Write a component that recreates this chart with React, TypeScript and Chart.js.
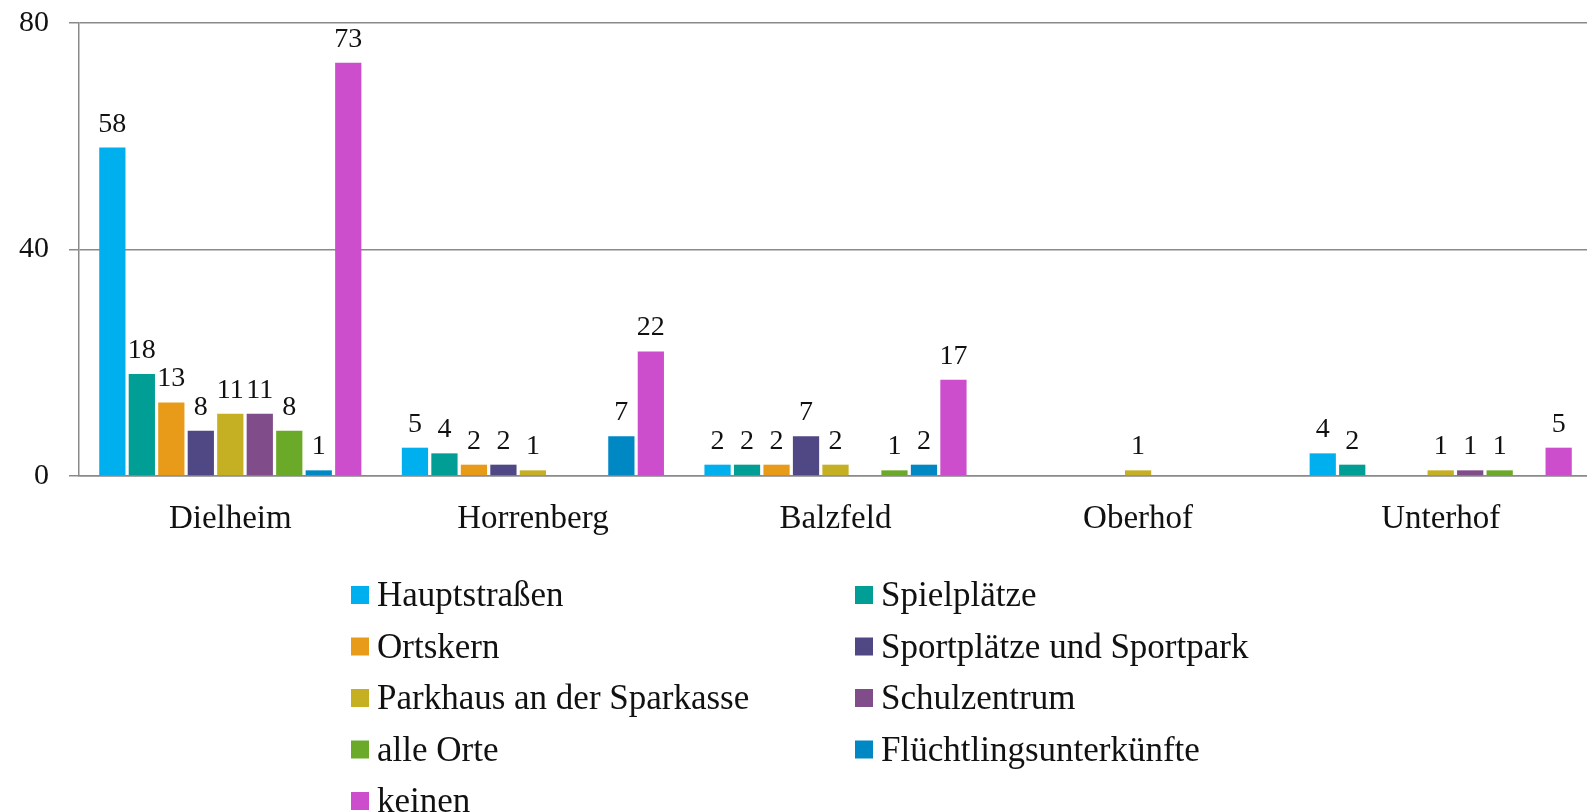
import React, { useEffect, useRef } from "react";
import { Chart, registerables } from "chart.js";

Chart.register(...registerables);

const categories = ["Dielheim", "Horrenberg", "Balzfeld", "Oberhof", "Unterhof"];

const seriesNames = [
  "Hauptstraßen",
  "Spielplätze",
  "Ortskern",
  "Sportplätze und Sportpark",
  "Parkhaus an der Sparkasse",
  "Schulzentrum",
  "alle Orte",
  "Flüchtlingsunterkünfte",
  "keinen",
];

const seriesColors = [
  "#00B0EE",
  "#009E94",
  "#E89B19",
  "#504785",
  "#C5AF23",
  "#804D8A",
  "#6BAA28",
  "#0088C5",
  "#CC4ECC",
];

const hauptstrassen = [58, 5, 2, null, 4];
const spielplaetze = [18, 4, 2, null, 2];
const ortskern = [13, 2, 2, null, null];
const sportplaetze = [8, 2, 7, null, null];
const parkhaus = [11, 1, 2, 1, 1];
const schulzentrum = [11, null, null, null, 1];
const alleOrte = [8, null, 1, null, 1];
const fluechtlinge = [1, 7, 2, null, null];
const keinen = [73, 22, 17, null, 5];

const seriesValues = [
  hauptstrassen,
  spielplaetze,
  ortskern,
  sportplaetze,
  parkhaus,
  schulzentrum,
  alleOrte,
  fluechtlinge,
  keinen,
];

const yMin = 0;
const yMax = 80;
const yStep = 40;

const FONT = "'Liberation Serif', 'Times New Roman', serif";
const GRID = "#8a8a8a";

const valueLabels = {
  id: "valueLabels",
  afterDatasetsDraw(chart: any) {
    const ctx = chart.ctx;
    ctx.save();
    ctx.font = `28px ${FONT}`;
    ctx.fillStyle = "#111";
    ctx.textAlign = "center";
    ctx.textBaseline = "alphabetic";
    chart.data.datasets.forEach((ds: any, di: number) => {
      const meta = chart.getDatasetMeta(di);
      meta.data.forEach((bar: any, i: number) => {
        const v = ds.data[i];
        if (v === null || v === undefined) return;
        ctx.fillText(String(v), bar.x, bar.y - 16);
      });
    });
    ctx.restore();
  },
};

const gridLegend = {
  id: "gridLegend",
  afterDraw(chart: any) {
    const ctx = chart.ctx;
    ctx.save();
    ctx.font = `35px ${FONT}`;
    ctx.textAlign = "left";
    ctx.textBaseline = "alphabetic";
    const colX = [351, 855];
    const rowH = 51.5;
    chart.data.datasets.forEach((ds: any, i: number) => {
      const col = i % 2;
      const row = Math.floor(i / 2);
      const x = colX[col];
      const top = 586 + row * rowH;
      ctx.fillStyle = ds.backgroundColor;
      ctx.fillRect(x, top, 18, 18);
      ctx.fillStyle = "#111";
      ctx.fillText(ds.label, x + 26, top + 20);
    });
    ctx.restore();
  },
};

export default function App() {
  const canvasRef = useRef<HTMLCanvasElement | null>(null);

  useEffect(() => {
    document.body.style.margin = "0";
    const canvas = canvasRef.current;
    if (!canvas) return;
    const chart = new Chart(canvas, {
      type: "bar",
      data: {
        labels: categories,
        datasets: seriesNames.map((name, i) => ({
          label: name,
          data: seriesValues[i],
          backgroundColor: seriesColors[i],
          borderWidth: 0,
          barPercentage: 0.89,
          categoryPercentage: 0.877,
        })),
      },
      options: {
        responsive: false,
        animation: false,
        devicePixelRatio: 1,
        layout: { padding: { top: 23, right: 1, bottom: 0, left: 0 } },
        plugins: {
          legend: { display: false },
          tooltip: { enabled: false },
          title: { display: false },
        },
        scales: {
          x: {
            grid: { display: false, drawTicks: false },
            border: { display: true, color: GRID, width: 1.5 },
            ticks: {
              color: "#111",
              font: { family: FONT, size: 33 },
              padding: 24,
              maxRotation: 0,
            },
            afterFit: (scale: any) => {
              scale.height = 336;
              scale.paddingTop = 0;
              scale.paddingBottom = 0;
            },
          },
          y: {
            min: yMin,
            max: yMax,
            ticks: {
              stepSize: yStep,
              color: "#111",
              font: { family: FONT, size: 30 },
              padding: 20,
            },
            grid: {
              color: GRID,
              lineWidth: 1.5,
              tickLength: 10,
              drawTicks: true,
            },
            border: { display: true, color: GRID, width: 1.5 },
            afterFit: (scale: any) => {
              scale.width = 79;
              scale.paddingTop = 0;
              scale.paddingBottom = 0;
            },
          },
        },
      },
      plugins: [valueLabels, gridLegend],
    });
    return () => chart.destroy();
  }, []);

  return (
    <div style={{ position: "relative", width: 1587, height: 812, overflow: "hidden", background: "#fff" }}>
      <canvas ref={canvasRef} width={1593} height={812} style={{ display: "block", width: 1593, height: 812 }} />
    </div>
  );
}
